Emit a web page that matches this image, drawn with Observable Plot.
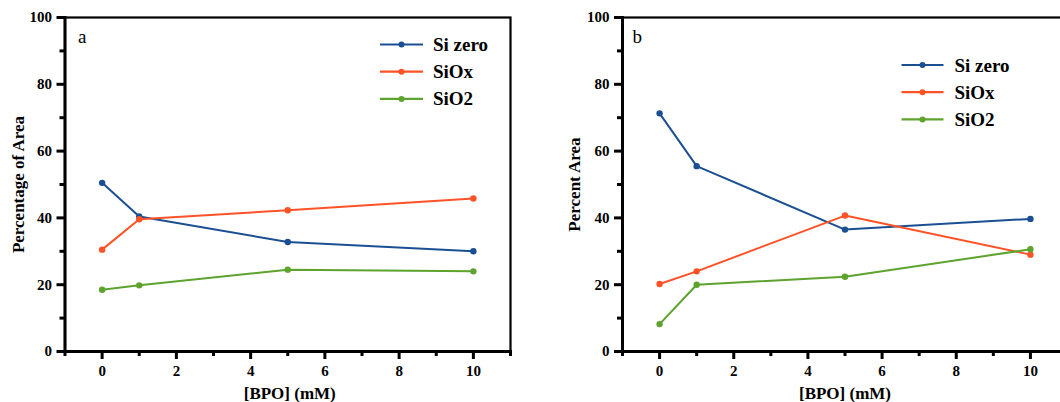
<!DOCTYPE html>
<html>
<head>
<meta charset="utf-8">
<script src="https://cdn.jsdelivr.net/npm/d3@7"></script>
<script src="https://cdn.jsdelivr.net/npm/@observablehq/plot@0.6"></script>
<style>
  html, body { margin: 0; padding: 0; background: #fff; overflow: hidden; }
  #fig { display: flex; width: 1060px; height: 402px; overflow: hidden; }
  #fig svg { display: block; flex: none; overflow: visible; }
  #fig svg text { font-family: "Liberation Serif", "DejaVu Serif", serif !important; }
</style>
</head>
<body>
<div id="fig"></div>
<script>
// BPO concentrations (mM)
const bpo = [0, 1, 5, 10];

// Panel a: percentage of area
const siZeroA = [50.5, 40.4, 32.8, 30.0];
const siOxA   = [30.5, 39.6, 42.3, 45.8];
const siO2A   = [18.5, 19.8, 24.5, 24.0];

// Panel b: percent area
const siZeroB = [71.3, 55.5, 36.5, 39.7];
const siOxB   = [20.2, 24.0, 40.7, 29.0];
const siO2B   = [8.2, 20.0, 22.4, 30.6];

const seriesNames = ["Si zero", "SiOx", "SiO2"];
const seriesColors = ["#1b4f93", "#ff5226", "#5da32e"];

const xMajor = [0, 2, 4, 6, 8, 10];
const xMinor = [-1, 1, 3, 5, 7, 9, 11];
const yMajor = [0, 20, 40, 60, 80, 100];
const yMinor = [10, 30, 50, 70, 90];

function rows(values) {
  return values.flatMap((v, s) => bpo.map((x, i) => ({series: seriesNames[s], x, y: v[i]})));
}

function panel({letter, ylabel, values, width, marginLeft, marginRight, ylabelDx, xlabelDx, letterDx, legend}) {
  const data = rows(values);
  const marginTop = 17;
  // legend labels, one text mark per series so each row gets its own offset
  const legendText = seriesNames.map((name, i) =>
    Plot.text([name], {
      frameAnchor: "top-left",
      dx: legend.tx - marginLeft,
      dy: legend.y + i * legend.step - marginTop,
      textAnchor: "start", lineAnchor: "middle",
      fontSize: 19, fontWeight: "bold", fill: "black"
    })
  );
  const svg = Plot.plot({
    width,
    height: 402,
    marginLeft,
    marginRight,
    marginTop,
    marginBottom: 51,
    style: {background: "white", overflow: "visible"},
    x: {domain: [-1, 11]},
    y: {domain: [0, 100]},
    color: {domain: seriesNames, range: seriesColors},
    marks: [
      Plot.line(data, {x: "x", y: "y", z: "series", stroke: "series", strokeWidth: 2}),
      Plot.dot(data, {x: "x", y: "y", fill: "series", r: 3.2}),
      Plot.axisX({ticks: xMajor, tickSize: 8, tickPadding: 6, tickFormat: d3.format("d"),
        fontSize: 15, fontWeight: "bold", strokeWidth: 3, stroke: "black", label: null}),
      Plot.axisX({ticks: xMinor, tickSize: 5, tickFormat: () => "", strokeWidth: 3, stroke: "black", label: null}),
      Plot.axisY({ticks: yMajor, tickSize: 8, tickPadding: 5, tickFormat: d3.format("d"),
        fontSize: 15, fontWeight: "bold", strokeWidth: 3, stroke: "black", label: null}),
      Plot.axisY({ticks: yMinor, tickSize: 5, tickFormat: () => "", strokeWidth: 3, stroke: "black", label: null}),
      Plot.frame({stroke: "black", strokeWidth: 2.2}),
      Plot.frame({anchor: "left", stroke: "black", strokeWidth: 3}),
      Plot.frame({anchor: "bottom", stroke: "black", strokeWidth: 3}),
      Plot.text([letter], {frameAnchor: "top-left", dx: letterDx, dy: 12, fontSize: 19,
        textAnchor: "start", lineAnchor: "top"}),
      Plot.text([ylabel], {frameAnchor: "left", rotate: -90, dx: ylabelDx, fontSize: 17,
        fontWeight: "bold", textAnchor: "middle", lineAnchor: "middle"}),
      Plot.text(["[BPO] (mM)"], {frameAnchor: "bottom", dx: xlabelDx, dy: 42, fontSize: 17,
        fontWeight: "bold", lineAnchor: "middle"}),
      ...legendText
    ]
  });

  // legend keys: short line with a dot in the middle
  const g = d3.select(svg).append("g");
  seriesNames.forEach((name, i) => {
    const y = legend.y + i * legend.step;
    g.append("line").attr("x1", legend.x1).attr("x2", legend.x2)
      .attr("y1", y).attr("y2", y)
      .attr("stroke", seriesColors[i]).attr("stroke-width", 2.2);
    g.append("circle").attr("cx", (legend.x1 + legend.x2) / 2).attr("cy", y)
      .attr("r", 3).attr("fill", seriesColors[i]);
  });
  return svg;
}

const fig = document.getElementById("fig");
fig.append(panel({
  letter: "a", ylabel: "Percentage of Area",
  values: [siZeroA, siOxA, siO2A],
  width: 530, marginLeft: 64.5, marginRight: 20, ylabelDx: -46.5, xlabelDx: 2, letterDx: 13,
  legend: {x1: 380, x2: 423, tx: 432.5, y: 44.5, step: 27.2}
}));
fig.append(panel({
  letter: "b", ylabel: "Percent Area",
  values: [siZeroB, siOxB, siO2B],
  width: 537, marginLeft: 92, marginRight: 0, ylabelDx: -48, xlabelDx: 0, letterDx: 10,
  legend: {x1: 371.5, x2: 413.5, tx: 424, y: 65, step: 27.2}
}));
</script>
</body>
</html>
